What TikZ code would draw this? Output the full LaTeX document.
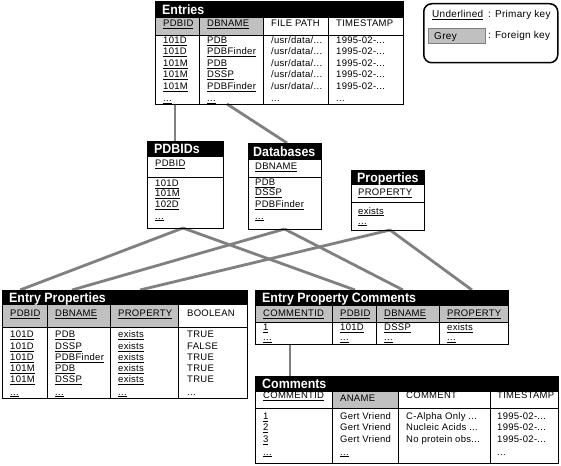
\documentclass[tikz,border=0pt]{standalone}
\usepackage{fontspec}
\setmainfont{Liberation Sans}[LetterSpace=3]
\newfontfamily\titlefont[FakeStretch=0.92]{Liberation Sans Bold}
\usetikzlibrary{calc}
\definecolor{fk}{RGB}{192,192,192}
\definecolor{linkgrey}{RGB}{128,128,128}
\newcommand\ukey[1]{\underline{#1}}
\begin{document}
\begin{tikzpicture}[x=1pt,y=-1pt,
  ttl/.style={anchor=base west,inner sep=0,text=white,font=\titlefont\fontsize{13.5}{14}\selectfont},
  cell/.style={anchor=base west,inner sep=0,font=\fontsize{9.5}{11}\selectfont},
  legtext/.style={anchor=base west,inner sep=0,font=\fontsize{10}{12}\selectfont},
  tbl/.style={draw=black,line width=0.9pt,anchor=north west,inner sep=0,outer sep=0},
  rule/.style={draw=black,line width=0.8pt},
  connector/.style={draw=linkgrey,line width=2.8pt}]
\useasboundingbox (0,0) rectangle (561,465);
\fill[white] (0,0) rectangle (561,465);

% ---------- table outlines (named nodes) ----------
\node[tbl, minimum width=248pt, minimum height=103pt] (entries) at (155,1) {};
\node[tbl, minimum width=76pt, minimum height=87pt] (pdbids) at (147,141) {};
\node[tbl, minimum width=73pt, minimum height=86pt] (databases) at (248,143) {};
\node[tbl, minimum width=73pt, minimum height=60pt] (properties) at (351,170) {};
\node[tbl, minimum width=245pt, minimum height=108pt] (ep) at (2,290) {};
\node[tbl, minimum width=253pt, minimum height=54pt] (epc) at (255,290) {};
\node[tbl, minimum width=303pt, minimum height=87pt] (comments) at (255,376) {};

% ---------- connectors ----------
\draw[connector] ($(entries.south west)+(20,0)$) -- ($(pdbids.north west)+(28,0)$);
\draw[connector] ($(entries.south west)+(72,0)$) -- ($(databases.north west)+(39,0)$);
\draw[connector] ($(pdbids.south west)+(36,0)$) -- ($(ep.north west)+(18,0)$);
\draw[connector] ($(pdbids.south west)+(36,0)$) -- ($(epc.north west)+(100,0)$);
\draw[connector] (databases.south) -- ($(ep.north west)+(70,0)$);
\draw[connector] (databases.south) -- ($(epc.north west)+(148,0)$);
\draw[connector] ($(properties.south west)+(39,0)$) -- ($(ep.north west)+(138,0)$);
\draw[connector] ($(properties.south west)+(39,0)$) -- ($(epc.north west)+(217,0)$);
\draw[connector] ($(epc.south west)+(35,0)$) -- ($(comments.north west)+(35,0)$);

% ---------- Entries ----------
\fill[fk] (155,18) rectangle (263,35);
\fill[black] (155,1) rectangle (403,18);
\draw[rule] (155,35) -- (403,35) (199,18) -- (199,104) (263,18) -- (263,104) (328,18) -- (328,104);
\draw[line width=0.9pt] (155,1) rectangle (403,104);
\node[ttl] at (162,14.3) {Entries};
\node[cell] at (163,26.7) {\ukey{PDBID}};
\node[cell] at (207,26.7) {\ukey{DBNAME}};
\node[cell] at (271,26.7) {FILE PATH};
\node[cell] at (336,26.7) {TIMESTAMP};
\foreach \a/\b/\y in {101D/PDB/43.5, 101D/PDBFinder/55, 101M/PDB/66.5, 101M/DSSP/78, 101M/PDBFinder/89.5}{
  \node[cell] at (163,\y) {\ukey{\a}};
  \node[cell] at (207,\y) {\ukey{\b}};
  \node[cell] at (271,\y) {/usr/data/...};
  \node[cell] at (336,\y) {1995-02-...};
}
\node[cell] at (163,101.5) {\ukey{...}};
\node[cell] at (207,101.5) {\ukey{...}};
\node[cell] at (271,101.5) {...};
\node[cell] at (336,101.5) {...};

% ---------- PDBIDs ----------
\fill[black] (147,141) rectangle (223,157);
\draw[rule] (147,177) -- (223,177);
\draw[line width=0.9pt] (147,141) rectangle (223,228);
\node[ttl] at (154,153.8) {PDBIDs};
\node[cell] at (155,166.5) {\ukey{PDBID}};
\node[cell] at (155,186.5) {\ukey{101D}};
\node[cell] at (155,196.5) {\ukey{101M}};
\node[cell] at (155,207.5) {\ukey{102D}};
\node[cell] at (155,219) {\ukey{...}};

% ---------- Databases ----------
\fill[black] (248,143) rectangle (321,160);
\draw[rule] (248,177) -- (321,177);
\draw[line width=0.9pt] (248,143) rectangle (321,229);
\node[ttl] at (253,156.3) {Databases};
\node[cell] at (255,169.5) {\ukey{DBNAME}};
\node[cell] at (255,185.5) {\ukey{PDB}};
\node[cell] at (255,195.5) {\ukey{DSSP}};
\node[cell] at (255,207.5) {\ukey{PDBFinder}};
\node[cell] at (255,219) {\ukey{...}};

% ---------- Properties ----------
\fill[black] (351,170) rectangle (424,185);
\draw[rule] (351,202) -- (424,202);
\draw[line width=0.9pt] (351,170) rectangle (424,230);
\node[ttl] at (357,182.3) {Properties};
\node[cell] at (358,195.5) {\ukey{PROPERTY}};
\node[cell] at (358,214) {\ukey{exists}};
\node[cell] at (358,224) {\ukey{...}};

% ---------- Entry Properties ----------
\fill[fk] (2,305) rectangle (178,327.5);
\fill[black] (2,290) rectangle (247,305);
\draw[rule] (2,327.5) -- (247,327.5) (47,305) -- (47,398) (110,305) -- (110,398) (178,305) -- (178,398);
\draw[line width=0.9pt] (2,290) rectangle (247,398);
\node[ttl] at (9,302.3) {Entry Properties};
\node[cell] at (10,316.5) {\ukey{PDBID}};
\node[cell] at (55,316.5) {\ukey{DBNAME}};
\node[cell] at (118,316.5) {\ukey{PROPERTY}};
\node[cell] at (187,316.5) {BOOLEAN};
\foreach \a/\b/\c/\y in {101D/PDB/TRUE/337.5, 101D/DSSP/FALSE/349.5, 101D/PDBFinder/TRUE/360.5, 101M/PDB/TRUE/371.5, 101M/DSSP/TRUE/382.5}{
  \node[cell] at (10,\y) {\ukey{\a}};
  \node[cell] at (55,\y) {\ukey{\b}};
  \node[cell] at (118,\y) {\ukey{exists}};
  \node[cell] at (187,\y) {\c};
}
\node[cell] at (10,395) {\ukey{...}};
\node[cell] at (55,395) {\ukey{...}};
\node[cell] at (118,395) {\ukey{...}};
\node[cell] at (187,395) {...};

% ---------- Entry Property Comments ----------
\fill[fk] (255,306) rectangle (508,322);
\fill[black] (255,290) rectangle (508,306);
\draw[rule] (255,322) -- (508,322) (332,306) -- (332,344) (376,306) -- (376,344) (439,306) -- (439,344);
\draw[line width=0.9pt] (255,290) rectangle (508,344);
\node[ttl] at (262,302.8) {Entry Property Comments};
\node[cell] at (263,316.5) {\ukey{COMMENTID}};
\node[cell] at (340,316.5) {\ukey{PDBID}};
\node[cell] at (384,316.5) {\ukey{DBNAME}};
\node[cell] at (447,316.5) {\ukey{PROPERTY}};
\node[cell] at (263,330.5) {\ukey{1}};
\node[cell] at (340,330.5) {\ukey{101D}};
\node[cell] at (384,330.5) {\ukey{DSSP}};
\node[cell] at (447,330.5) {\ukey{exists}};
\node[cell] at (263,340.5) {\ukey{...}};
\node[cell] at (340,340.5) {\ukey{...}};
\node[cell] at (384,340.5) {\ukey{...}};
\node[cell] at (447,340.5) {\ukey{...}};

% ---------- Comments ----------
\fill[fk] (332,392) rectangle (398,408);
\fill[black] (255,376) rectangle (558,392);
\draw[rule] (255,408) -- (558,408) (332,392) -- (332,463) (398,392) -- (398,463) (490,392) -- (490,463);
\draw[line width=0.9pt] (255,376) rectangle (558,463);
\node[ttl] at (262,388.8) {Comments};
\node[cell] at (263,398.8) {\ukey{COMMENTID}};
\node[cell] at (340,401.5) {ANAME};
\node[cell] at (406,398.8) {COMMENT};
\node[cell] at (497,398.8) {TIMESTAMP};
\node[cell] at (263,419.5) {\ukey{1}};
\node[cell] at (340,419.5) {Gert Vriend};
\node[cell] at (406,419.5) {C-Alpha Only ...};
\node[cell] at (497,419.5) {1995-02-...};
\node[cell] at (263,430.5) {\ukey{2}};
\node[cell] at (340,430.5) {Gert Vriend};
\node[cell] at (406,430.5) {Nucleic Acids ...};
\node[cell] at (497,430.5) {1995-02-...};
\node[cell] at (263,442.5) {\ukey{3}};
\node[cell] at (340,442.5) {Gert Vriend};
\node[cell] at (406,442.5) {No protein obs...};
\node[cell] at (497,442.5) {1995-02-...};
\node[cell] at (263,455) {\ukey{...}};
\node[cell] at (340,455) {\ukey{...}};
\node[cell] at (497,455) {...};

% ---------- Legend ----------
\node[draw=black, line width=1.5pt, rounded corners=8pt, anchor=north west, inner sep=0,
      minimum width=134pt, minimum height=59pt] (legend) at (423,3) {};
\node[draw=gray, line width=0.6pt, fill=fk, anchor=north west, inner sep=0,
      minimum width=57pt, minimum height=15pt] (greybox) at (428,28) {};
\node[legtext] (ulabel) at (432,17.5) {\ukey{Underlined}};
\node[legtext] (pkey) at (488,17.5) {: Primary key};
\node[legtext] (glabel) at (434,39.5) {Grey};
\node[legtext] (fkey) at (488,39) {: Foreign key};
\end{tikzpicture}
\end{document}
